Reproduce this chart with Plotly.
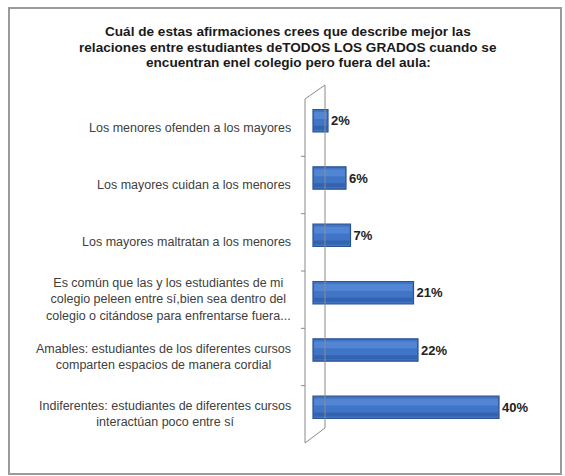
import plotly.graph_objects as go

# ---- data ----
categories = [
    "Los menores ofenden a los mayores",
    "Los mayores cuidan a los menores",
    "Los mayores maltratan a los menores",
    "Es común que las y los estudiantes de mi<br>colegio peleen entre sí,bien sea dentro del<br>colegio o citándose para enfrentarse fuera...",
    "Amables: estudiantes de los diferentes cursos<br>comparten espacios de manera cordial",
    "Indiferentes: estudiantes de diferentes cursos<br>interactúan poco entre sí",
]
values = [2, 6, 7, 21, 22, 40]
value_labels = ["2%", "6%", "7%", "21%", "22%", "40%"]
title_lines = [
    "Cuál de estas afirmaciones crees que describe mejor las",
    "relaciones entre estudiantes deTODOS LOS GRADOS cuando se",
    "encuentran enel colegio pero fuera del aula:",
]

# ---- layout geometry (pixels) ----
FIG_W, FIG_H = 565, 476
L, R, T, B = 305, 545, 92, 436
PW, PH = R - L, B - T
SCALE = 4.5               # px per unit
ZERO_PX = 319
RMIN = (L - ZERO_PX) / SCALE
RMAX = RMIN + PW / SCALE
BAR_BASE = (313 - ZERO_PX) / SCALE


def fx(px):
    return (px - L) / PW


def fy(py):
    return (B - py) / PH


fig = go.Figure()
# main cylinder body
fig.add_trace(go.Bar(
    y=categories, x=[v - BAR_BASE for v in values], base=BAR_BASE,
    orientation="h", width=0.39,
    marker=dict(color="#3F74C6", line=dict(color="#2B5291", width=1.2)),
    text=value_labels, textposition="outside",
    textfont=dict(family="Liberation Sans", size=13, color="#222222", weight="bold"),
    cliponaxis=False, hoverinfo="skip", showlegend=False,
))
# lighter upper band (cylinder shading)
fig.add_trace(go.Bar(
    y=categories, x=[v - BAR_BASE - 0.5 for v in values], base=BAR_BASE + 0.25,
    orientation="h", width=0.12, offset=-0.15,
    marker=dict(color="#5286D4", line=dict(width=0)),
    hoverinfo="skip", showlegend=False,
))
# darker lower band
fig.add_trace(go.Bar(
    y=categories, x=[v - BAR_BASE - 0.5 for v in values], base=BAR_BASE + 0.25,
    orientation="h", width=0.07, offset=0.09,
    marker=dict(color="#3363AE", line=dict(width=0)),
    hoverinfo="skip", showlegend=False,
))

wall = dict(color="#8a8a8a", width=1)
shapes = [
    dict(type="rect", xref="paper", yref="paper",
         x0=fx(9), x1=fx(561), y0=fy(8), y1=fy(474),
         line=dict(color="#9a9a9a", width=2)),
    dict(type="line", xref="paper", yref="paper", x0=fx(305), x1=fx(305), y0=fy(99), y1=fy(443), line=wall),
    dict(type="line", xref="paper", yref="paper", x0=fx(325), x1=fx(325), y0=fy(85), y1=fy(428), line=wall),
    dict(type="line", xref="paper", yref="paper", x0=fx(305), x1=fx(325), y0=fy(99), y1=fy(85), line=wall),
    dict(type="line", xref="paper", yref="paper", x0=fx(305), x1=fx(325), y0=fy(443), y1=fy(428), line=wall),
]
step = (443 - 99) / len(categories)
for k in range(1, len(categories)):
    yy = 99 + k * step
    shapes.append(dict(type="line", xref="paper", yref="paper",
                       x0=fx(301), x1=fx(305), y0=fy(yy), y1=fy(yy), line=wall))

annotations = []
for c in categories:
    annotations.append(dict(
        x=fx(293), xref="paper", xanchor="right", y=c, yref="y", yshift=-7,
        text=c, showarrow=False, align="center",
        font=dict(family="Liberation Sans", size=12.5, color="#404040"),
    ))
for i, line in enumerate(title_lines):
    annotations.append(dict(
        x=fx(288), xref="paper", xanchor="center",
        y=fy(32 + 15 * i), yref="paper", yanchor="middle",
        text="<b>" + line + "</b>", showarrow=False,
        font=dict(family="Liberation Sans", size=13.6, color="#1a1a1a"),
    ))

fig.update_layout(
    width=FIG_W, height=FIG_H,
    margin=dict(l=L, r=FIG_W - R, t=T, b=FIG_H - B),
    paper_bgcolor="white", plot_bgcolor="white",
    barmode="overlay",
    xaxis=dict(range=[RMIN, RMAX], visible=False, fixedrange=True),
    yaxis=dict(categoryorder="array", categoryarray=categories, autorange="reversed",
               showticklabels=False, showline=False, showgrid=False, ticks="",
               zeroline=False, fixedrange=True),
    shapes=shapes, annotations=annotations,
)

fig.write_html("out.html", config={"displayModeBar": False},
               post_script="document.body.style.margin='0';document.body.style.overflow='hidden';")
